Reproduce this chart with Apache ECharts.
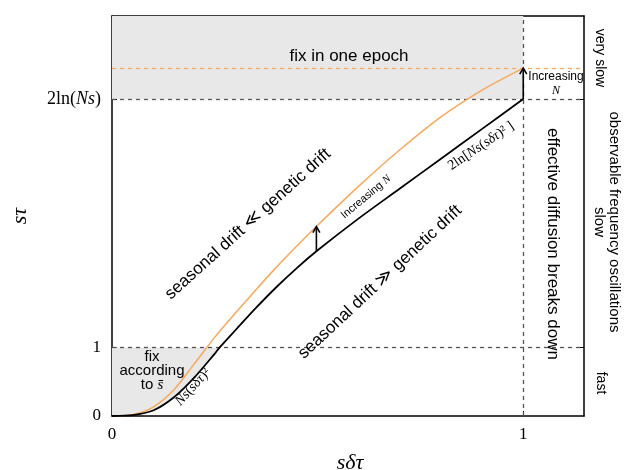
<!DOCTYPE html>
<html><head><meta charset="utf-8">
<script src="https://cdn.jsdelivr.net/npm/echarts@6/dist/echarts.min.js"></script>
<style>html,body{margin:0;padding:0;background:#fff}#c{width:624px;height:470px}</style>
</head><body><div id="c"></div>
<script>
// ---- data ----
const xMax = 1.1477;
const yMax = 5.83;
const lnNs = 4.62;            // 2ln(Ns)
const orangeLevel = 5.07;     // fix in one epoch (increased N)
const yTickValues = [0, 1, lnNs];
const yTickLabels = ['0', '1', '2ln(Ns)'];
const xTickValues = [0, 1];
const xTickLabels = ['0', '1'];
const blackX = [0, 0.05, 0.1, 0.15, 0.2, 0.25, 0.262, 0.3, 0.35, 0.4, 0.45, 0.5, 0.6, 0.7, 0.8, 0.9, 1.0];
const blackY = [0, 0.012, 0.08, 0.27, 0.56, 0.91, 1.0, 1.25, 1.575, 1.88, 2.16, 2.415, 2.88, 3.315, 3.75, 4.185, 4.62];
const orangeX = [0, 0.05, 0.1, 0.15, 0.2, 0.25, 0.3, 0.35, 0.4, 0.45, 0.5, 0.6, 0.7, 0.8, 0.9, 1.0];
const orangeY = [0, 0.02, 0.13, 0.38, 0.76, 1.15, 1.50, 1.84, 2.17, 2.48, 2.78, 3.35, 3.88, 4.36, 4.75, 5.07];
const arrowX = [0.497, 1.0];
const arrowFrom = [2.40, 4.62];
const arrowTo = [2.76, 5.07];

const SANS = '"Liberation Sans", Arial, sans-serif';
const SERIF = '"Liberation Serif", "DejaVu Serif", serif';

const blackData = blackX.map((x, i) => [x, blackY[i]]);
const orangeData = orangeX.map((x, i) => [x, orangeY[i]]);

const chart = echarts.init(document.getElementById('c'), null, {renderer: 'canvas'});

function txt(x, y, rotDeg, text, opts) {
  opts = opts || {};
  return {
    type: 'text', x: x, y: y, rotation: rotDeg * Math.PI / 180, z: 50,
    style: Object.assign({
      text: text, fill: '#000', font: (opts.size || 17) + 'px ' + SANS,
      align: 'center', verticalAlign: 'middle', textAlign: 'center', textVerticalAlign: 'middle'
    }, opts.style || {})
  };
}
const mathRich = (size, color) => ({
  r: {fontFamily: SERIF, fontSize: size, color: color},
  i: {fontFamily: SERIF, fontSize: size, fontStyle: 'italic', color: color},
  s: {fontFamily: SANS, fontSize: size, color: color},
  d: {fontFamily: SERIF, fontSize: 17, color: color}
});

const option = {
  animation: false,
  backgroundColor: '#fff',
  grid: {left: 112, right: 40, top: 16, bottom: 54},
  xAxis: [{
    type: 'value', min: 0, max: xMax,
    axisLine: {show: true, onZero: false, lineStyle: {color: '#000', width: 1.5}},
    splitLine: {show: false},
    axisTick: {show: true, inside: true, length: 5, customValues: xTickValues, lineStyle: {color: '#000'}},
    axisLabel: {
      customValues: xTickValues, margin: 10, color: '#000', fontSize: 17, fontFamily: SERIF,
      formatter: v => xTickLabels[xTickValues.indexOf(v)]
    }
  }, {
    type: 'value', min: 0, max: xMax, position: 'top',
    axisLine: {show: true, onZero: false, lineStyle: {color: '#000', width: 1.5}},
    splitLine: {show: false}, axisTick: {show: false}, axisLabel: {show: false}
  }],
  yAxis: [{
    type: 'value', min: 0, max: yMax,
    axisLine: {show: true, onZero: false, lineStyle: {color: '#000', width: 1.5}},
    splitLine: {show: false},
    axisTick: {show: true, inside: true, length: 5, customValues: yTickValues, lineStyle: {color: '#000'}},
    axisLabel: {
      customValues: yTickValues, margin: 11, color: '#000', fontSize: 17, fontFamily: SERIF,
      formatter: v => {
        const i = yTickValues.indexOf(v);
        if (i === 2) return '{r|2ln(}{i|Ns}{r|)}';
        return '{d|' + yTickLabels[i] + '}';
      },
      rich: mathRich(18, '#000')
    }
  }, {
    type: 'value', min: 0, max: yMax, position: 'right',
    axisLine: {show: true, onZero: false, lineStyle: {color: '#000', width: 1.5}},
    splitLine: {show: false},
    axisTick: {show: true, inside: true, length: 8, customValues: [1, lnNs], lineStyle: {color: '#000'}},
    axisLabel: {show: false}
  }],
  series: [
    { // shaded: fix according to s-bar (left of black curve, below 1)
      type: 'custom', z: 1, silent: true,
      data: [[0, 0]],
      renderItem: function (params, api) {
        const pts = [];
        blackData.forEach(d => { if (d[1] <= 1) pts.push(api.coord(d)); });
        pts.push(api.coord([0, 1]));
        return {type: 'polygon', shape: {points: pts}, style: {fill: '#e8e8e8'}};
      }
    },
    {
      type: 'line', name: 'black', z: 5, data: blackData, smooth: 0.3, symbol: 'none',
      lineStyle: {color: '#000', width: 1.8},
      markArea: {
        silent: true, z: 1,
        itemStyle: {color: '#e8e8e8'},
        data: [[{xAxis: 0, yAxis: lnNs}, {xAxis: 1, yAxis: yMax}]]
      },
      markLine: {
        silent: true, symbol: ['none', 'none'], label: {show: false}, z: 3,
        lineStyle: {color: '#555', type: [4, 4], width: 1.3},
        data: [{yAxis: 1}, {yAxis: lnNs}, {xAxis: 1}]
      }
    },
    {
      type: 'line', name: 'orange', z: 4, data: orangeData, smooth: 0.3, symbol: 'none',
      lineStyle: {color: '#f9a85c', width: 1.5},
      markLine: {
        silent: true, symbol: ['none', 'none'], label: {show: false}, z: 3,
        lineStyle: {color: '#f9a85c', type: [4, 4], width: 1.3},
        data: [{yAxis: orangeLevel}]
      }
    },
    { // arrows "Increasing N"
      type: 'custom', z: 6, silent: true,
      data: arrowX.map((x, i) => [x, arrowFrom[i], arrowTo[i]]),
      renderItem: function (params, api) {
        const a = api.coord([api.value(0), api.value(1)]);
        const b = api.coord([api.value(0), api.value(2)]);
        return {
          type: 'group', children: [
            {type: 'line', shape: {x1: a[0], y1: a[1], x2: b[0], y2: b[1] + 1}, style: {stroke: '#000', lineWidth: 1.6}},
            {type: 'polyline', shape: {points: [[b[0] - 3.5, b[1] + 6], [b[0], b[1]], [b[0] + 3.5, b[1] + 6]]}, style: {stroke: '#000', lineWidth: 1.6, fill: null}}
          ]
        };
      }
    }
  ],
  graphic: [
    txt(349, 56, 0, 'fix in one epoch', {size: 17}),
    txt(600, 58, -90, 'very slow', {size: 14}),
    txt(607, 222, -90, 'observable frequency oscillations\nslow', {size: 15, style: {lineHeight: 15}}),
    txt(601, 383, -90, 'fast', {size: 14}),
    txt(553, 244, -90, 'effective diffusion breaks down', {size: 17}),
    txt(248, 224, 42, 'seasonal drift \u226A genetic drift', {size: 17}),
    txt(380, 282, 43, 'seasonal drift \u226B genetic drift', {size: 17}),
    txt(152, 371, 0, '{s|fix}\n{s|according}\n{s|to }{i|s\u0304}', {style: {rich: mathRich(15, '#000'), lineHeight: 14, font: '15px ' + SANS}}),
    txt(193, 387, 48, '{i|Ns}{r|(}{i|s\u03B4\u03C4}{r|)\u00B2}', {style: {rich: mathRich(14, '#333'), font: '14px ' + SERIF}}),
    txt(481, 146, 34, '{r|2ln[}{i|Ns}{r|(}{i|s\u03B4\u03C4}{r|)\u00B2 ]}', {style: {rich: mathRich(14, '#333'), font: '14px ' + SERIF}}),
    txt(366, 197, 40, '{s|Increasing }{i|N}', {style: {rich: mathRich(11, '#000'), font: '11px ' + SANS}}),
    txt(556, 77, 0, 'Increasing', {size: 12}),
    txt(556, 91, 0, '{i|N}', {style: {rich: mathRich(12, '#333'), font: '12px ' + SERIF}}),
    txt(20, 216, 90, '{i|s\u03C4}', {style: {rich: mathRich(22, '#000'), font: '22px ' + SERIF}}),
    txt(350, 463, 0, '{i|s\u03B4\u03C4}', {style: {rich: mathRich(22, '#000'), font: '22px ' + SERIF}})
  ]
};
chart.setOption(option);
</script>
</body></html>
